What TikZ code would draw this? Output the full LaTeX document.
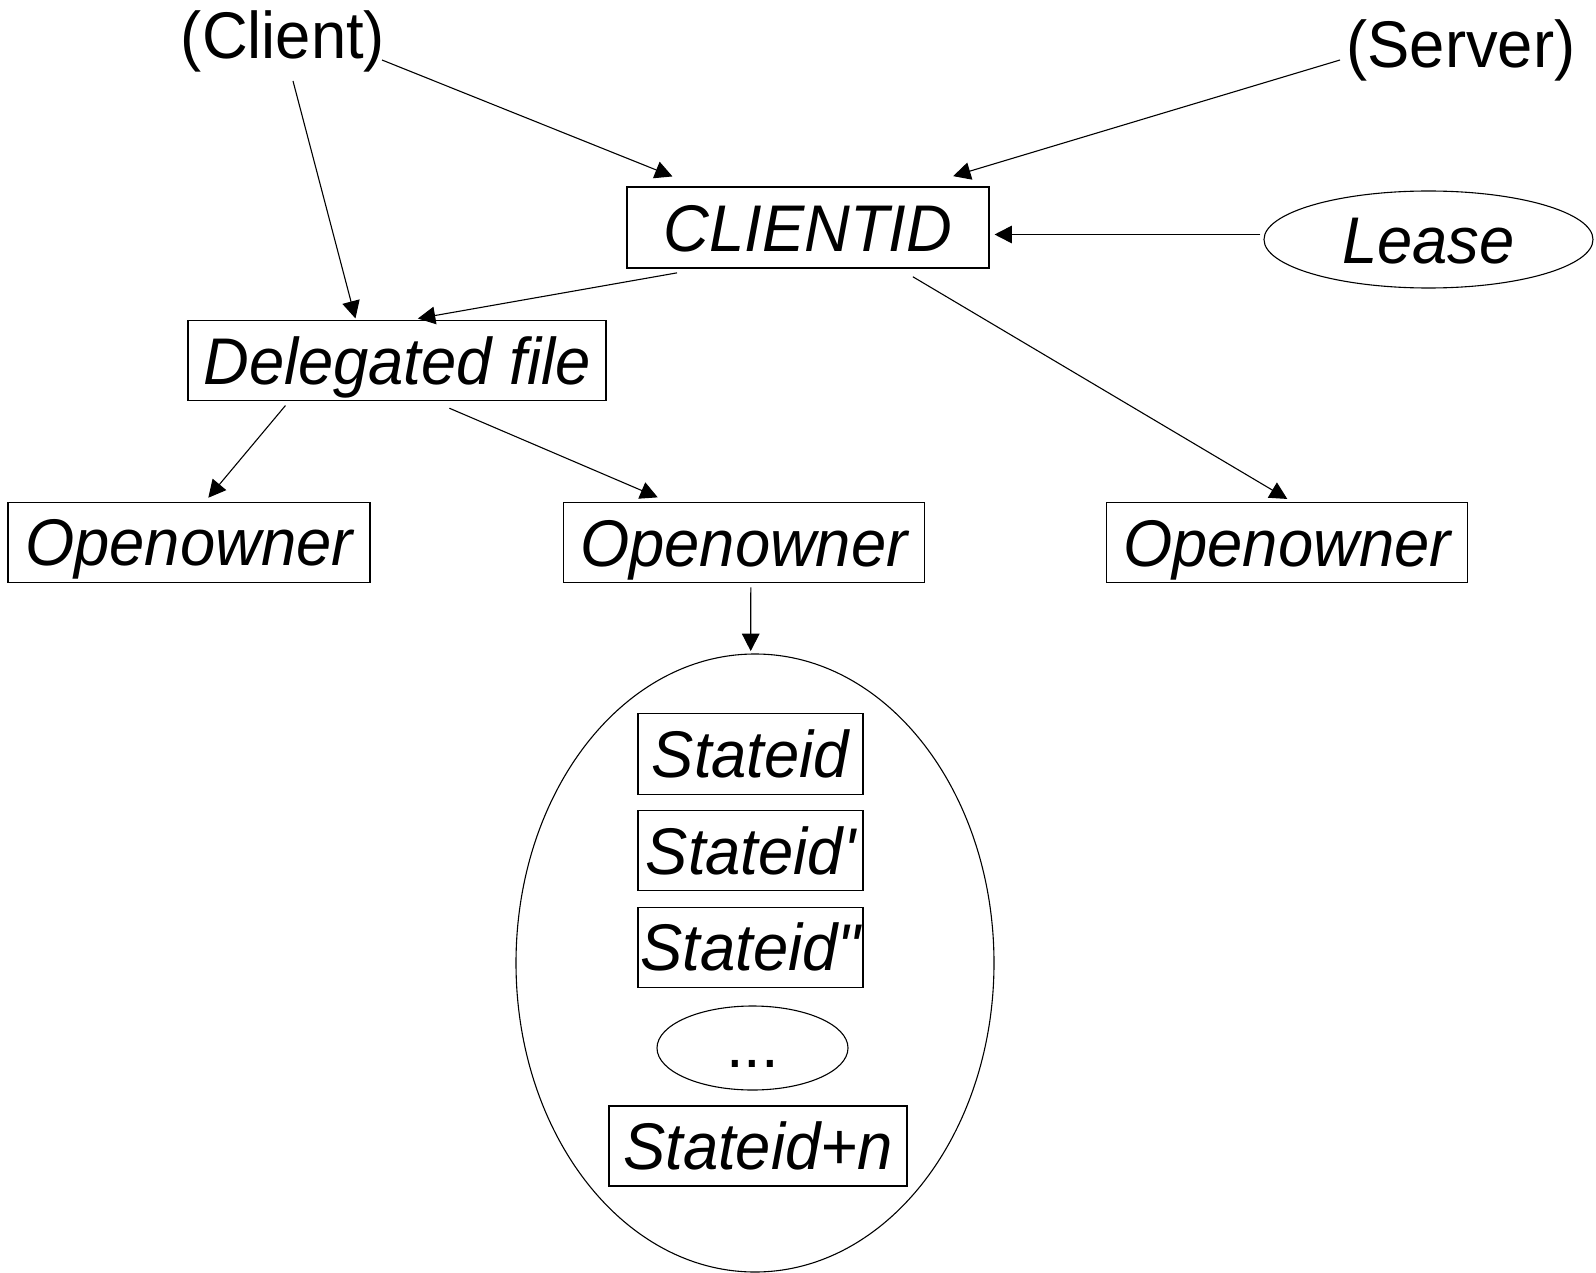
\documentclass[tikz,border=0pt]{standalone}
\usepackage{fontspec}
\usepackage{graphicx}
\newfontfamily\arialfam{Liberation Sans}
\usetikzlibrary{arrows.meta,shapes.geometric,calc}
% slightly condensed lettering
\newcommand\narrow[1]{\scalebox{0.96}[1]{#1}}
\begin{document}
\begin{tikzpicture}[x=0.5pt,y=-0.5pt,
  every node/.style={font=\arialfam\fontsize{33pt}{40pt}\selectfont,
    inner sep=0pt, line width=0.55pt},
  box/.style={draw, rectangle, minimum height=40pt,
    text height=23.6pt, text depth=0pt},
  oval/.style={draw, ellipse, text height=23.6pt, text depth=0pt},
  conn/.style={line width=0.55pt, -{Triangle[length=8.7pt,width=8.8pt]}},
]
\useasboundingbox (0,0) rectangle (1596,1273);

% top labels
\node[anchor=base] (client) at (283,59) {\narrow{(Client)}};
\node[anchor=base] (server) at (1461,68) {\narrow{(Server)}};

% main entities
\node[box, minimum width=181pt, minimum height=40.5pt] (cid) at (808,227.5) {\narrow{\itshape CLIENTID}};
\node[oval, minimum width=164.5pt, minimum height=48.5pt] (lease) at (1428.5,239.5) {\narrow{\itshape Lease}};
\node[box, minimum width=209pt] (deleg) at (397,360.5) {\narrow{\itshape Delegated file}};
\node[box, minimum width=181pt] (oo1) at (189,542.3) {\narrow{\itshape Openowner}};
\node[box, minimum width=180.5pt] (oo2) at (743.8,542.5) {\narrow{\itshape Openowner}};
\node[box, minimum width=180.2pt] (oo3) at (1287,542.5) {\narrow{\itshape Openowner}};

% group of stateids
\node[draw, ellipse, minimum width=239pt, minimum height=309pt] (grp) at (755,963) {};
\node[box, minimum width=112.5pt, minimum height=40.25pt] (s1) at (750.5,754) {\narrow{\itshape Stateid}};
\node[box, minimum width=112.5pt, minimum height=40.25pt] (s2) at (750.5,850.5) {\narrow{\itshape Stateid\char"27}};
\node[box, minimum width=112.5pt, minimum height=40.25pt] (s3) at (750.5,947.3) {\narrow{\itshape Stateid\char"22}};
\node[draw, ellipse, minimum width=95.5pt, minimum height=42pt,
      text height=19pt, text depth=0pt] (more) at (752.5,1048) {\narrow{...}};
\node[box, minimum width=149pt] (sn) at (758,1146) {\narrow{\itshape Stateid+n}};

% connectors
\draw[conn] ($(client.base)+(99,1)$) -- ($(cid.north west)+(46,-10)$);
\draw[conn] ($(client.base)+(10,22)$) -- ($(deleg.north west)+(168,-1.5)$);
\draw[conn] ($(server.base)+(-121,-8)$) -- ($(cid.north east)+(-36.4,-10.3)$);
\draw[conn] ($(lease.west)+(-3,-5)$) -- ($(cid.east)+(5,7)$);
\draw[conn] ($(cid.south west)+(50.6,4.3)$) -- ($(deleg.north west)+(230.4,-1.4)$);
\draw[conn] ($(cid.south east)+(-76.7,8.2)$) -- ($(oo3.north)+(0.3,-3)$);
\draw[conn] ($(deleg.south west)+(98,4.5)$) -- ($(oo1.north)+(19.3,-4)$);
\draw[conn] ($(deleg.south west)+(262,7.2)$) -- ($(oo2.north west)+(95,-4.6)$);
\draw[conn] ($(oo2.south)+(7,4.2)$) -- ($(grp.north)+(-4.3,-2.4)$);
\end{tikzpicture}
\end{document}
